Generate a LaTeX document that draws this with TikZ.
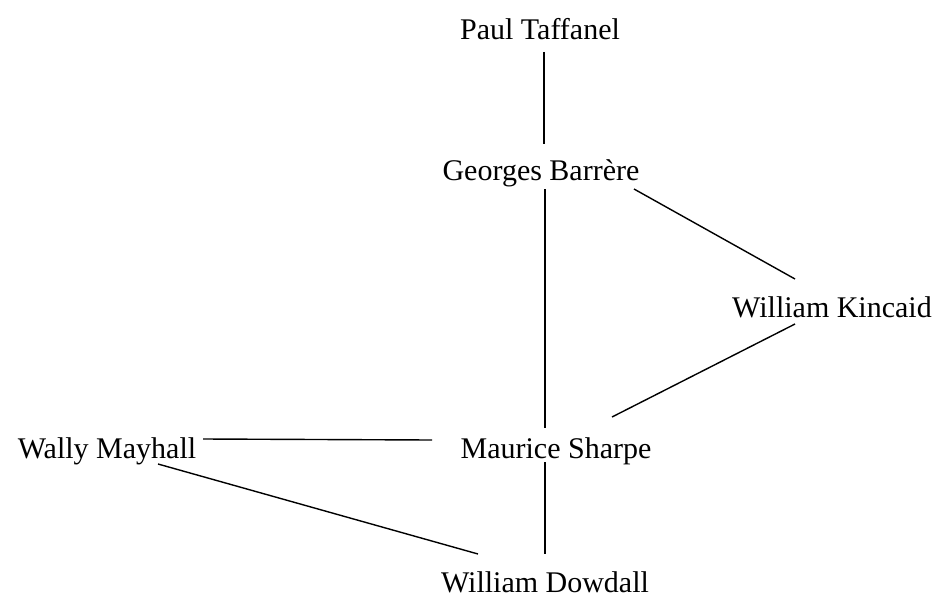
\documentclass[tikz,border=0pt]{standalone}
\usepackage{fontspec}
\setmainfont{Liberation Serif}
\begin{document}
\begin{tikzpicture}[x=1pt,y=-1pt,
  person/.style={anchor=base,inner sep=0pt,font=\fontsize{30}{36}\selectfont},
  link/.style={line width=1.4pt,black}]
\useasboundingbox (0,0) rectangle (941,599);
\node[person] (taf) at (540,40) {Paul Taffanel};
\node[person] (bar) at (541,180) {Georges Barrère};
\node[person] (kin) at (832,317) {William Kincaid};
\node[person] (sha) at (556,458) {Maurice Sharpe};
\node[person] (way) at (107,458) {Wally Mayhall};
\node[person] (dow) at (545,592) {William Dowdall};
\draw[link] ([shift={(4,12)}]taf.base) -- ([shift={(3,-36)}]bar.base);
\draw[link] ([shift={(4,9)}]bar.base) -- ([shift={(-11,-30)}]sha.base);
\draw[link] ([shift={(93,9)}]bar.base) -- ([shift={(-37,-38)}]kin.base);
\draw[link] ([shift={(-37,7)}]kin.base) -- ([shift={(56,-41)}]sha.base);
\draw[link] ([shift={(96,-19)}]way.base) -- ([shift={(-124,-18)}]sha.base);
\draw[link] ([shift={(51,6)}]way.base) -- ([shift={(-67,-38)}]dow.base);
\draw[link] ([shift={(-11,4)}]sha.base) -- ([shift={(0,-38)}]dow.base);
\end{tikzpicture}
\end{document}
